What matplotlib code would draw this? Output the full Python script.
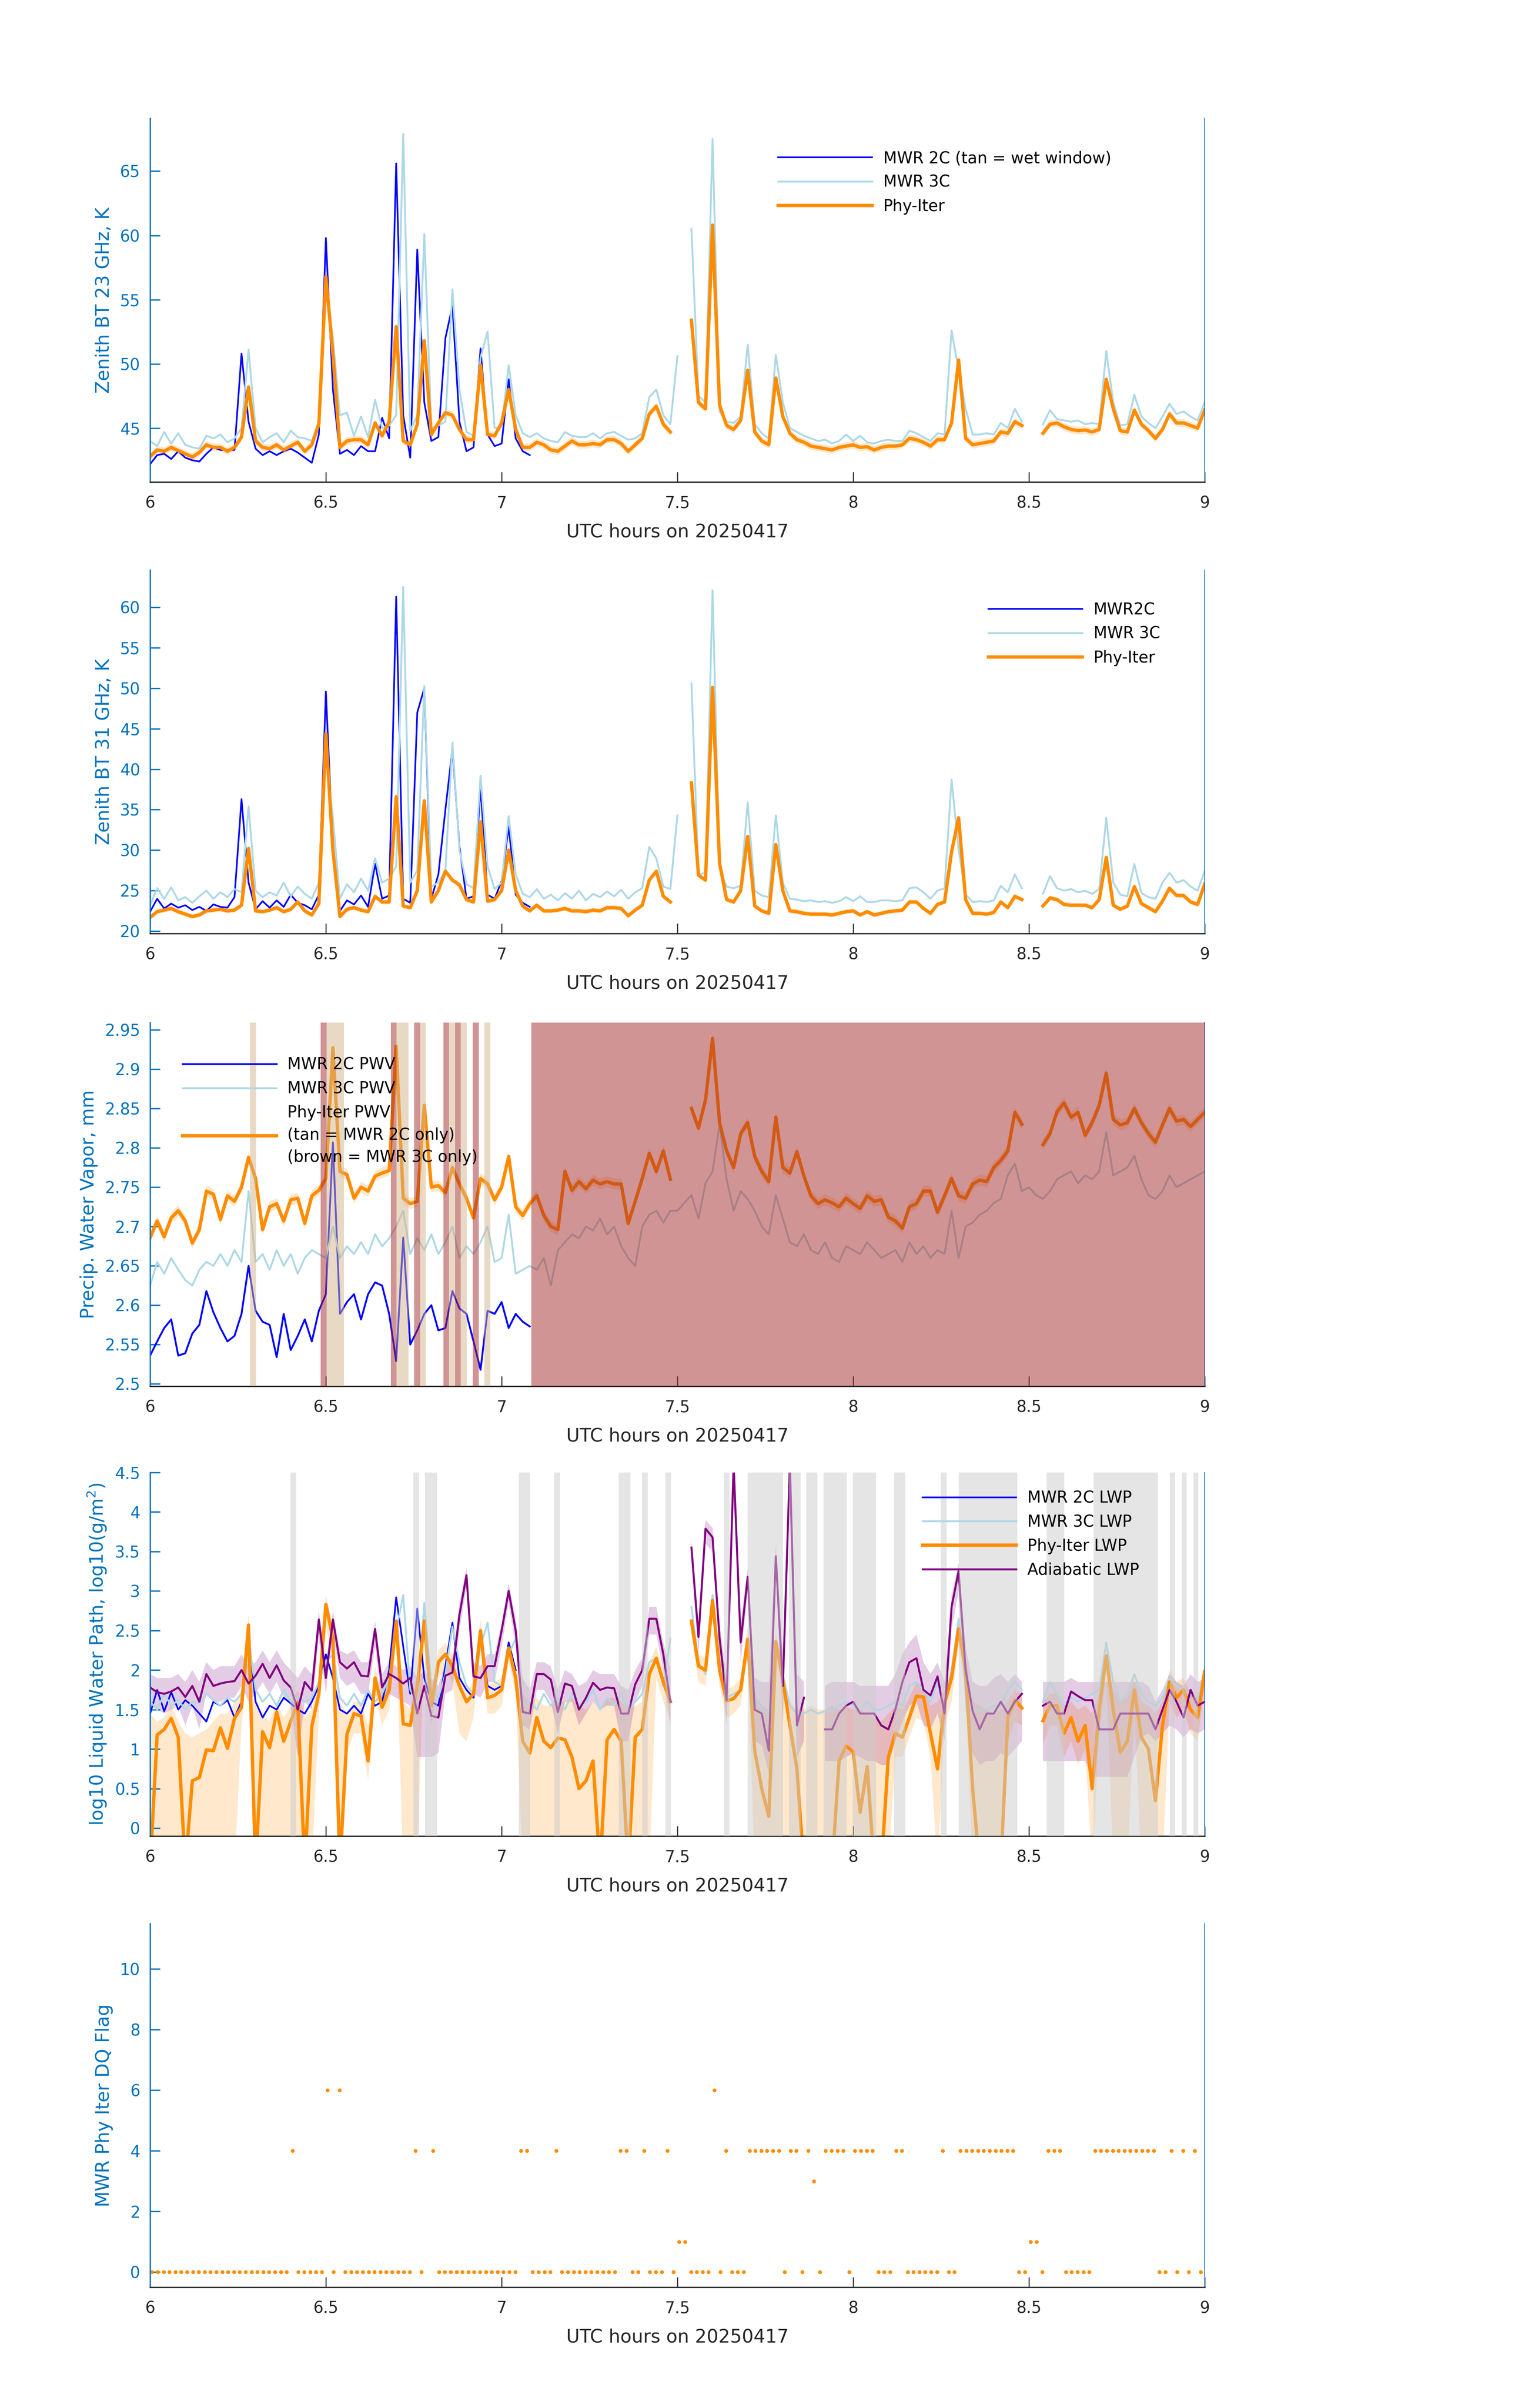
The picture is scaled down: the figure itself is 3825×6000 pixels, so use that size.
import numpy as np
import matplotlib
matplotlib.use('Agg')
import matplotlib.pyplot as plt
from matplotlib.ticker import FormatStrFormatter

nan = np.nan

# common 0.02 h time base, 6.00 .. 9.00 UTC
t = np.round(np.linspace(6.0, 9.0, 151), 2)

# ---- panel 1: 23 GHz brightness temperature (K)
mwr2c_bt23 = [
    42.2, 42.9, 43.0, 42.6, 43.2, 42.7, 42.5, 42.4, 43.0, 43.5,
    43.3, 43.3, 43.3, 50.8, 45.5, 43.4, 42.9, 43.2, 42.9, 43.2,
    43.4, 43.1, 42.7, 42.3, 44.5, 59.8, 48.0, 43.0, 43.3, 42.9,
    43.6, 43.2, 43.2, 45.8, 44.2, 65.6, 46.0, 42.7, 58.9, 47.0,
    44.0, 44.3, 52.0, 54.5, 45.5, 43.2, 43.5, 51.2, 44.5, 43.6,
    43.8, 48.8, 44.2, 43.2, 42.9, nan, nan, nan, nan, nan,
] + [nan] * 91
mwr3c_bt23 = [
    44.0, 43.6, 44.7, 43.8, 44.6, 43.7, 43.5, 43.4, 44.4, 44.2,
    44.5, 43.9, 44.2, 45.0, 51.1, 45.0, 43.9, 44.3, 44.6, 43.9,
    44.8, 44.3, 44.2, 44.0, 45.6, 56.0, 52.0, 46.0, 46.2, 44.4,
    45.9, 44.3, 47.2, 45.0, 45.2, 46.0, 67.9, 44.8, 46.0, 60.1,
    45.0, 45.2, 45.5, 55.8, 48.0, 44.7, 44.4, 50.5, 52.5, 45.0,
    45.1, 49.9, 46.0, 44.6, 44.3, 44.6, 44.2, 44.0, 43.9, 44.7,
    44.4, 44.3, 44.3, 44.6, 44.2, 44.6, 44.7, 44.4, 44.1, 44.2,
    44.6, 47.4, 48.0, 46.0, 45.3, 50.6, nan, 60.5, 47.5, 47.0,
    67.5, 46.3, 45.5, 45.4, 45.9, 51.5, 45.3, 44.6, 44.2, 50.7,
    47.0, 45.0, 44.7, 44.4, 44.2, 44.0, 44.1, 43.8, 44.0, 44.5,
    44.0, 44.4, 43.9, 43.8, 44.0, 44.1, 44.0, 44.0, 44.8, 44.6,
    44.3, 44.0, 44.6, 44.5, 52.6, 49.5, 46.5, 44.5, 44.5, 44.6,
    44.5, 45.4, 45.0, 46.5, 45.5, nan, nan, 45.3, 46.4, 45.7,
    45.6, 45.5, 45.6, 45.3, 45.4, 45.3, 51.0, 47.0, 45.2, 45.3,
    47.6, 45.9, 45.4, 45.0, 45.9, 46.9, 46.1, 46.3, 45.9, 45.6,
    47.0,
]
phy_bt23 = [
    42.8, 43.3, 43.2, 43.5, 43.25, 43.0, 42.75, 43.1, 43.7, 43.5,
    43.5, 43.2, 43.5, 44.3, 48.2, 44.0, 43.5, 43.4, 43.7, 43.3,
    43.6, 43.9, 43.2, 43.7, 45.3, 56.8, 50.8, 43.5, 44.0, 44.1,
    44.1, 43.7, 45.4, 44.4, 45.5, 52.9, 44.0, 43.7, 45.3, 51.8,
    44.5, 45.4, 46.2, 46.0, 44.9, 44.1, 44.1, 49.9, 44.5, 44.4,
    45.4, 48.0, 44.9, 43.5, 43.5, 43.9, 43.7, 43.3, 43.2, 43.6,
    44.0, 43.7, 43.7, 43.8, 43.7, 44.1, 44.1, 43.8, 43.2, 43.7,
    44.2, 46.1, 46.7, 45.3, 44.7, nan, nan, 53.4, 47.0, 46.5,
    60.8, 46.8, 45.2, 44.9, 45.6, 49.5, 44.7, 44.0, 43.7, 48.9,
    45.9, 44.6, 44.1, 43.9, 43.6, 43.5, 43.4, 43.3, 43.5, 43.6,
    43.7, 43.5, 43.55, 43.3, 43.5, 43.6, 43.6, 43.7, 44.2, 44.1,
    43.9, 43.6, 44.1, 44.1, 45.4, 50.3, 44.2, 43.7, 43.8, 43.9,
    44.0, 44.7, 44.6, 45.5, 45.2, nan, nan, 44.6, 45.3, 45.4,
    45.1, 44.9, 44.8, 44.85, 44.7, 44.9, 48.8, 46.5, 44.8, 44.7,
    46.4, 45.3, 44.8, 44.2, 44.9, 46.1, 45.4, 45.4, 45.2, 45.0,
    46.4,
]
phy_bt23_err = 0.3

# ---- panel 2: 31 GHz brightness temperature (K)
mwr2c_bt31 = [
    22.4, 24.0, 22.8, 23.4, 22.9, 23.2, 22.6, 23.0, 22.5, 23.3,
    23.0, 22.9, 24.2, 36.3, 26.0, 22.7, 23.7, 22.9, 23.8, 23.0,
    24.5, 23.5, 23.2, 22.7, 24.5, 49.6, 30.0, 22.5, 23.8, 23.3,
    24.4, 23.0, 28.3, 24.0, 24.4, 61.3, 24.0, 23.5, 47.0, 50.0,
    24.0, 27.0, 35.0, 42.5, 30.5, 24.0, 24.3, 37.8, 24.5, 24.0,
    26.2, 32.9, 24.5, 23.5, 23.0, nan, nan, nan, nan, nan,
] + [nan] * 91
mwr3c_bt31 = [
    23.2, 25.3, 24.0, 25.4, 23.8, 24.2, 23.5, 24.3, 25.0, 24.0,
    24.8, 24.2, 25.2, 24.8, 35.4, 25.0, 24.2, 24.8, 24.4, 26.0,
    24.3, 25.5, 24.6, 24.0, 26.0, 42.0, 34.0, 24.0, 25.8, 24.8,
    26.5, 25.0, 29.0, 26.0, 26.5, 28.0, 62.5, 26.0, 27.5, 50.3,
    25.5, 26.0, 27.5, 43.3, 30.0, 25.8, 25.3, 39.2, 28.0, 25.2,
    26.0, 34.2, 27.0, 24.6, 24.2, 25.2, 24.0, 24.5, 23.8, 24.7,
    24.0, 25.0, 23.8, 24.6, 24.2, 24.9, 24.3, 25.1, 24.0, 24.8,
    25.3, 30.4, 29.0, 25.5, 25.2, 34.3, nan, 50.6, 27.0, 27.2,
    62.1, 27.8, 25.5, 25.3, 25.6, 35.9, 25.0, 24.4, 24.2, 34.3,
    26.0, 24.0, 23.9, 23.7, 23.8, 23.6, 23.7, 23.5, 23.7, 24.2,
    23.7, 24.3, 23.6, 23.6, 23.8, 23.8, 23.7, 23.8, 25.3, 25.4,
    24.8, 24.0, 25.0, 25.3, 38.7, 30.0, 24.5, 23.6, 23.7, 23.6,
    23.8, 25.6, 24.8, 27.0, 25.3, nan, nan, 24.6, 26.8, 25.3,
    25.0, 25.2, 24.8, 25.0, 24.6, 25.2, 34.0, 26.0, 24.5, 24.3,
    28.3, 24.7, 24.2, 24.0, 26.0, 27.2, 26.0, 26.3, 25.5, 25.0,
    27.4,
]
phy_bt31 = [
    21.7, 22.4, 22.6, 22.8, 22.4, 22.1, 21.8, 22.0, 22.5, 22.6,
    22.7, 22.5, 22.6, 23.2, 30.2, 22.5, 22.4, 22.6, 22.9, 22.4,
    22.7, 23.6, 22.5, 22.0, 23.4, 44.4, 30.0, 21.8, 22.7, 22.9,
    22.6, 22.4, 24.3, 23.6, 23.6, 36.6, 23.1, 22.9, 25.0, 36.1,
    23.6, 25.0, 27.4, 26.3, 25.7, 23.9, 23.6, 33.5, 23.7, 23.9,
    25.0, 30.0, 25.0, 23.1, 22.5, 23.2, 22.5, 22.5, 22.6, 22.8,
    22.5, 22.5, 22.4, 22.6, 22.5, 22.9, 22.9, 22.8, 21.9, 22.6,
    23.2, 26.3, 27.4, 24.3, 23.6, nan, nan, 38.3, 26.9, 26.3,
    50.1, 28.4, 23.9, 23.6, 25.0, 31.7, 23.1, 22.5, 22.2, 30.7,
    25.0, 22.5, 22.4, 22.2, 22.1, 22.1, 22.1, 22.0, 22.2, 22.4,
    22.5, 22.0, 22.4, 22.0, 22.2, 22.4, 22.5, 22.6, 23.6, 23.6,
    22.8, 22.2, 23.3, 23.6, 29.8, 34.0, 23.9, 22.2, 22.2, 22.1,
    22.3, 23.6, 22.9, 24.3, 23.9, nan, nan, 23.1, 24.1, 23.9,
    23.3, 23.2, 23.2, 23.2, 22.9, 23.9, 29.1, 23.2, 22.7, 23.1,
    25.5, 23.4, 22.9, 22.4, 23.7, 25.3, 24.4, 24.4, 23.6, 23.3,
    25.8,
]
phy_bt31_err = 0.3

# ---- panel 3: precipitable water vapour (mm)
mwr2c_pwv = [
    2.536, 2.554, 2.571, 2.582, 2.536, 2.539, 2.564, 2.575, 2.618, 2.591,
    2.571, 2.554, 2.561, 2.589, 2.650, 2.593, 2.579, 2.575, 2.534, 2.589,
    2.543, 2.561, 2.582, 2.554, 2.593, 2.614, 2.807, 2.589, 2.604, 2.614,
    2.582, 2.614, 2.629, 2.625, 2.589, 2.529, 2.686, 2.550, 2.568, 2.589,
    2.600, 2.568, 2.571, 2.618, 2.596, 2.589, 2.554, 2.518, 2.593, 2.589,
    2.604, 2.571, 2.589, 2.579, 2.573, nan, nan, nan, nan, nan,
] + [nan] * 91
mwr3c_pwv = [
    2.625, 2.655, 2.640, 2.660, 2.645, 2.632, 2.625, 2.645, 2.655, 2.650,
    2.665, 2.650, 2.670, 2.655, 2.745, 2.655, 2.665, 2.645, 2.670, 2.650,
    2.665, 2.640, 2.660, 2.670, 2.665, 2.660, 2.700, 2.660, 2.675, 2.665,
    2.680, 2.665, 2.690, 2.675, 2.685, 2.700, 2.720, 2.665, 2.685, 2.670,
    2.690, 2.665, 2.680, 2.700, 2.660, 2.675, 2.665, 2.680, 2.700, 2.655,
    2.660, 2.715, 2.640, 2.645, 2.650, 2.645, 2.660, 2.625, 2.670, 2.680,
    2.690, 2.685, 2.700, 2.695, 2.710, 2.690, 2.700, 2.675, 2.660, 2.650,
    2.700, 2.715, 2.720, 2.705, 2.720, 2.720, 2.730, 2.740, 2.710, 2.755,
    2.770, 2.830, 2.760, 2.720, 2.745, 2.735, 2.720, 2.700, 2.690, 2.740,
    2.710, 2.680, 2.675, 2.690, 2.670, 2.665, 2.680, 2.660, 2.655, 2.675,
    2.670, 2.665, 2.680, 2.670, 2.660, 2.665, 2.670, 2.655, 2.680, 2.665,
    2.675, 2.660, 2.670, 2.665, 2.720, 2.660, 2.700, 2.705, 2.715, 2.720,
    2.730, 2.735, 2.765, 2.780, 2.745, 2.750, 2.740, 2.735, 2.745, 2.760,
    2.765, 2.770, 2.755, 2.765, 2.760, 2.770, 2.820, 2.765, 2.770, 2.775,
    2.790, 2.760, 2.740, 2.735, 2.745, 2.765, 2.750, 2.755, 2.760, 2.765,
    2.770,
]
phy_pwv = [
    2.686, 2.707, 2.687, 2.711, 2.720, 2.707, 2.679, 2.696, 2.745, 2.741,
    2.709, 2.739, 2.732, 2.750, 2.788, 2.761, 2.696, 2.725, 2.729, 2.707,
    2.734, 2.736, 2.704, 2.739, 2.746, 2.761, 2.927, 2.770, 2.766, 2.736,
    2.750, 2.745, 2.764, 2.768, 2.771, 2.929, 2.736, 2.729, 2.732, 2.854,
    2.750, 2.752, 2.743, 2.775, 2.754, 2.736, 2.711, 2.761, 2.754, 2.734,
    2.750, 2.789, 2.725, 2.714, 2.729, 2.739, 2.714, 2.700, 2.696, 2.770,
    2.746, 2.757, 2.748, 2.759, 2.754, 2.757, 2.754, 2.754, 2.704, 2.732,
    2.761, 2.793, 2.770, 2.796, 2.760, nan, nan, 2.850, 2.825, 2.861,
    2.939, 2.832, 2.796, 2.775, 2.818, 2.832, 2.789, 2.770, 2.757, 2.839,
    2.775, 2.768, 2.795, 2.764, 2.739, 2.729, 2.734, 2.730, 2.725, 2.736,
    2.729, 2.723, 2.739, 2.732, 2.734, 2.712, 2.707, 2.698, 2.725, 2.729,
    2.745, 2.745, 2.718, 2.739, 2.761, 2.739, 2.736, 2.754, 2.759, 2.757,
    2.775, 2.784, 2.796, 2.845, 2.830, nan, nan, 2.804, 2.818, 2.846,
    2.857, 2.839, 2.845, 2.816, 2.832, 2.854, 2.895, 2.836, 2.829, 2.832,
    2.850, 2.832, 2.818, 2.807, 2.829, 2.850, 2.834, 2.836, 2.827, 2.836,
    2.845,
]
phy_pwv_err = 0.007
tan_start = [6.284, 6.502, 6.701, 6.768, 6.851, 6.884, 6.951]
tan_end = [6.301, 6.551, 6.735, 6.784, 6.868, 6.901, 6.968]
brown_start = [6.485, 6.685, 6.751, 6.835, 6.868, 6.918, 7.084]
brown_end = [6.502, 6.701, 6.768, 6.851, 6.884, 6.935, 9.01]

# ---- panel 4: log10 liquid water path
mwr2c_lwp = [
    1.45, 1.75, 1.48, 1.72, 1.5, 1.62, 1.55, 1.45, 1.35, 1.6,
    1.55, 1.62, 1.4, 1.6, 2.45, 1.6, 1.4, 1.55, 1.5, 1.65,
    1.58, 1.5, 1.45, 1.6, 1.8, 2.2, 1.9, 1.5, 1.45, 1.55,
    1.45, 1.7, 1.55, 1.6, 2.0, 2.92, 2.3, 1.7, 2.78, 1.9,
    1.6, 1.55, 2.05, 2.6, 1.9, 1.75, 1.65, 2.5, 1.8, 1.75,
    1.8, 2.35, 2.0, nan, nan, nan, nan, nan, nan, nan,
] + [nan] * 91
mwr3c_lwp = [
    1.6, 1.5, 1.7, 1.55, 1.62, 1.5, 1.6, 1.58, 1.7, 1.62,
    1.55, 1.65, 1.6, 1.7, 2.4, 1.75, 1.6, 1.7, 1.55, 1.75,
    1.6, 1.65, 1.6, 1.65, 1.85, 2.1, 2.2, 1.65, 1.55, 1.7,
    1.55, 1.75, 1.6, 1.7, 1.9, 2.5, 2.95, 1.75, 1.6, 2.85,
    1.8, 1.65, 1.95, 2.55, 2.1, 1.8, 1.7, 2.3, 2.6, 1.85,
    1.8, 2.2, 2.4, 1.55, 1.6, 1.5, 1.7, 1.55, 1.65, 1.5,
    1.7, 1.55, 1.6, 1.75, 1.5, 1.65, 1.55, 1.7, 1.5, 1.6,
    1.7, 2.1, 2.15, 1.8, 2.4, nan, nan, 2.8, 2.1, 1.95,
    2.95, 2.1, 1.65, 1.7, 1.75, 2.4, 1.65, 1.5, 1.45, 2.35,
    1.95, 1.55, 1.45, 1.45, 1.5, 1.45, 1.48, 1.5, 1.55, 1.6,
    1.55, 1.5, 1.6, 1.5, 1.5, 1.55, 1.6, 1.55, 1.8, 1.85,
    1.75, 1.6, 1.85, 1.55, 2.0, 2.65, 1.9, 1.5, 1.5, 1.5,
    1.55, 1.55, 1.75, 1.85, 1.75, nan, nan, 1.6, 1.85, 1.7,
    1.55, 1.65, 1.6, 1.65, 1.7, 1.75, 2.35, 1.85, 1.6, 1.7,
    1.95, 1.7, 1.6, 1.55, 1.65, 1.9, 1.8, 1.75, 1.7, 1.65,
    1.95,
]
phy_lwp = [
    -0.5, 1.18, 1.25, 1.39, 1.15, -0.5, 0.6, 0.64, 0.99, 0.98,
    1.27, 1.01, 1.39, 1.53, 2.57, -0.5, 1.22, 1.02, 1.47, 1.10,
    1.35, 1.59, -0.5, 1.29, 1.7, 2.83, 2.4, -0.5, 1.19, 1.45,
    1.42, 0.85, 1.90, 1.53, 1.75, 2.62, 1.32, 1.30, 1.8, 2.62,
    1.55, 2.1, 2.2, 2.05, 1.8, 1.6, 1.7, 2.5, 1.65, 1.68,
    1.75, 2.28, 1.9, 1.1, 0.95, 1.4, 1.1, 1.02, 1.14, 1.12,
    0.9, 0.5, 0.6, 0.85, -0.5, 1.12, 1.25, 1.1, -0.5, 1.15,
    1.25, 1.95, 2.15, 1.85, 1.6, nan, nan, 2.62, 2.05, 2.0,
    2.88, 2.0, 1.61, 1.64, 1.75, 2.39, 0.98, 0.5, 0.15, 2.36,
    1.87, 1.3, 0.75, -0.5, -0.5, -0.5, -0.5, -0.5, 0.85, 1.04,
    0.97, 0.2, 0.78, -0.5, -0.5, 0.9, 1.2, 1.15, 1.4, 1.67,
    1.66, 1.2, 0.75, 1.58, 1.9, 2.52, 2.0, 0.5, -0.5, -0.5,
    -0.5, -0.5, 1.4, 1.62, 1.52, nan, nan, 1.36, 1.55, 1.55,
    1.2, 1.4, 1.1, 1.3, 0.5, 1.5, 2.18, 1.5, 0.96, 1.1,
    1.75, 1.15, 1.0, 0.35, 1.3, 1.85, 1.65, 1.75, 1.5, 1.4,
    1.98,
]
phy_lwp_hi = [
    1.45, 1.35, 1.4, 1.55, 1.35, 1.2, 1.15, 1.2, 1.25, 1.35,
    1.45, 1.45, 1.6, 1.75, 2.7, 1.6, 1.45, 1.35, 1.6, 1.4,
    1.55, 1.75, 1.4, 1.5, 1.85, 2.95, 2.55, 1.6, 1.45, 1.6,
    1.6, 1.3, 2.05, 1.7, 1.9, 2.75, 1.6, 1.5, 1.95, 2.75,
    1.75, 2.25, 2.35, 2.2, 1.95, 1.75, 1.85, 2.65, 1.8, 1.85,
    1.9, 2.4, 2.05, 1.7, 1.6, 1.65, 1.55, 1.55, 1.6, 1.6,
    1.65, 1.55, 1.5, 1.6, 1.5, 1.65, 1.65, 1.6, 1.5, 1.55,
    1.6, 2.1, 2.3, 2.0, 1.75, nan, nan, 2.75, 2.2, 2.15,
    3.0, 2.15, 1.75, 1.8, 1.9, 2.55, 1.7, 1.55, 1.5, 2.5,
    2.0, 1.6, 1.5, 1.5, 1.55, 1.5, 1.5, 1.55, 1.5, 1.55,
    1.5, 1.5, 1.45, 1.4, 1.35, 1.45, 1.55, 1.5, 1.65, 1.85,
    1.8, 1.55, 1.6, 1.75, 2.05, 2.65, 2.15, 1.6, 1.55, 1.5,
    1.45, 1.5, 1.6, 1.75, 1.7, nan, nan, 1.6, 1.7, 1.7,
    1.55, 1.6, 1.5, 1.55, 1.45, 1.7, 2.35, 1.75, 1.6, 1.65,
    1.9, 1.6, 1.55, 1.45, 1.6, 2.0, 1.85, 1.9, 1.7, 1.65,
    2.1,
]
phy_lwp_lo = [
    -0.5, -0.5, -0.5, -0.5, -0.5, -0.5, -0.5, -0.5, -0.5, -0.5,
    -0.5, -0.5, -0.5, 1.3, 2.2, -0.5, -0.5, -0.5, -0.5, -0.5,
    -0.5, -0.5, -0.5, -0.5, 1.45, 2.6, 2.1, -0.5, 0.95, 1.2,
    1.2, 0.6, 1.7, 1.3, 1.5, 2.45, -0.5, -0.5, -0.5, 2.4,
    1.3, 1.9, 2.0, 1.85, 1.2, 1.1, 1.4, 2.3, 1.45, 1.45,
    1.55, 2.1, 1.7, -0.5, -0.5, -0.5, -0.5, -0.5, -0.5, -0.5,
    -0.5, -0.5, -0.5, -0.5, -0.5, -0.5, -0.5, -0.5, -0.5, -0.5,
    -0.5, -0.5, 1.9, 1.6, 1.35, nan, nan, 2.45, 1.85, 1.8,
    2.7, 1.8, 1.4, 1.45, 1.55, 2.2, -0.5, -0.5, -0.5, -0.5,
    -0.5, -0.5, -0.5, -0.5, -0.5, -0.5, -0.5, -0.5, -0.5, -0.5,
    -0.5, -0.5, -0.5, -0.5, -0.5, -0.5, 0.9, 0.9, 1.15, 1.4,
    1.35, 0.9, -0.5, 1.3, 1.6, 2.3, 1.7, -0.5, -0.5, -0.5,
    -0.5, -0.5, 1.1, 1.35, 1.3, nan, nan, 1.05, 1.3, 1.3,
    0.9, 1.1, 0.8, 1.0, -0.5, 1.2, 1.95, -0.5, -0.5, -0.5,
    1.5, -0.5, -0.5, -0.5, -0.5, 1.6, 1.4, 1.5, 1.2, 1.1,
    1.8,
]
adi_lwp = [
    1.78, 1.72, 1.70, 1.73, 1.78, 1.66, 1.80, 1.60, 1.95, 1.80,
    1.83, 1.85, 1.86, 2.0, 1.83, 1.93, 2.08, 1.90, 2.06, 1.87,
    1.78, 1.5, 1.85, 1.74, 2.64, 1.9, 2.64, 2.1, 2.02, 2.1,
    1.93, 1.92, 2.52, 1.78, 1.95, 1.9, 1.83, 1.9, 1.45, 1.8,
    1.42, 1.4, 1.93, 1.97, 2.7, 3.2, 1.92, 1.9, 2.05, 2.05,
    2.5, 3.0, 2.5, 1.47, 1.45, 1.95, 1.95, 1.88, 1.47, 1.83,
    1.8, 1.5, 1.65, 1.84, 1.75, 1.78, 1.77, 1.45, 1.45, 1.82,
    2.0, 2.65, 2.65, 2.2, 1.6, nan, nan, 3.55, 2.42, 3.79,
    3.68, 2.4, 1.62, 4.6, 2.35, 3.18, 1.5, 1.45, 0.98, 3.44,
    1.8, 4.6, 1.3, 1.65, nan, nan, 1.25, 1.25, 1.45, 1.55,
    1.6, 1.45, 1.45, 1.45, 1.3, 1.25, 1.5, 1.85, 2.1, 2.15,
    1.75, 1.68, 1.92, 1.45, 2.8, 3.25, 2.0, 1.48, 1.25, 1.45,
    1.45, 1.6, 1.45, 1.6, 1.7, nan, nan, 1.55, 1.6, 1.45,
    1.45, 1.73, 1.67, 1.62, 1.62, 1.25, 1.25, 1.25, 1.45, 1.45,
    1.45, 1.45, 1.45, 1.25, 1.5, 1.75, 1.6, 1.4, 1.75, 1.55,
    1.6,
]
adi_lwp_hi = [
    1.95, 1.9, 1.9, 1.9, 1.95, 1.85, 2.0, 1.85, 2.1, 2.0,
    2.05, 2.05, 2.05, 2.2, 2.05, 2.1, 2.25, 2.1, 2.25, 2.1,
    2.0, 1.9, 2.05, 1.95, 2.75, 2.1, 2.75, 2.25, 2.2, 2.25,
    2.1, 2.1, 2.62, 1.95, 2.1, 2.05, 2.0, 2.05, 1.9, 2.0,
    1.9, 1.8, 2.1, 2.15, 2.85, 3.3, 2.1, 2.05, 2.2, 2.2,
    2.6, 3.1, 2.65, 1.9, 1.75, 2.1, 2.1, 2.05, 1.75, 2.0,
    1.95, 1.8, 1.85, 2.0, 1.95, 1.95, 1.95, 1.8, 1.75, 2.0,
    2.15, 2.8, 2.8, 2.35, 2.0, nan, nan, 3.65, 2.6, 3.9,
    3.8, 2.6, 1.9, 4.7, 2.6, 3.3, 1.9, 1.85, 1.85, 3.6,
    2.1, 4.7, 1.95, 1.85, nan, nan, 1.8, 1.85, 1.85, 1.85,
    1.85, 1.8, 1.8, 1.8, 1.8, 1.8, 1.95, 2.2, 2.35, 2.45,
    2.1, 1.95, 2.1, 1.85, 2.95, 3.35, 2.3, 1.85, 1.8, 1.8,
    1.9, 1.95, 1.85, 1.95, 1.85, nan, nan, 1.85, 1.85, 1.85,
    1.85, 1.9, 1.85, 1.85, 1.85, 1.85, 1.85, 1.85, 1.85, 1.85,
    1.85, 1.85, 1.8, 1.6, 1.75, 1.95, 1.85, 1.8, 1.95, 1.85,
    1.9,
]
adi_lwp_lo = [
    1.55, 1.5, 1.45, 1.5, 1.55, 1.3, 1.55, 1.25, 1.7, 1.6,
    1.6, 1.65, 1.65, 1.8, 1.6, 1.7, 1.85, 1.7, 1.85, 1.65,
    1.55, 0.9, 1.6, 1.5, 2.4, 1.7, 2.5, 1.9, 1.8, 1.85,
    1.7, 1.7, 2.3, 1.55, 1.7, 1.65, 1.6, 1.55, 0.9, 0.9,
    0.9, 0.95, 1.7, 1.75, 2.5, 3.05, 1.7, 1.65, 1.85, 1.85,
    2.3, 2.85, 2.3, 1.3, 1.25, 1.75, 1.75, 1.6, 1.2, 1.6,
    1.6, 1.3, 1.45, 1.6, 1.5, 1.55, 1.55, 1.1, 1.1, 1.6,
    1.8, 2.45, 2.45, 2.0, 1.3, nan, nan, 3.4, 2.2, 3.6,
    3.5, 2.2, 1.3, 4.4, 2.1, 3.0, 1.1, 1.05, 0.7, 3.2,
    1.3, 4.4, 0.9, 1.1, nan, nan, 0.85, 0.85, 0.85, 0.9,
    0.95, 0.9, 0.85, 0.85, 0.8, 0.8, 1.1, 1.35, 1.55, 1.6,
    1.3, 1.25, 1.45, 1.1, 2.5, 3.0, 1.5, 0.95, 0.8, 0.85,
    0.85, 0.95, 0.9, 1.0, 1.1, nan, nan, 0.85, 0.85, 0.85,
    0.85, 0.85, 0.85, 0.85, 0.65, 0.65, 0.65, 0.65, 0.65, 0.65,
    0.9, 1.15, 1.2, 1.1, 1.2, 1.3, 1.25, 1.15, 1.25, 1.2,
    1.25,
]
wet_start = [6.400, 6.749, 6.782, 7.049, 7.150, 7.333, 7.400, 7.466,
             7.633, 7.700, 7.817, 7.867, 7.916, 7.999, 8.116, 8.249,
             8.300, 8.550, 8.684, 8.901, 8.935, 8.968]
wet_end = [6.415, 6.765, 6.816, 7.081, 7.165, 7.366, 7.415, 7.482,
           7.648, 7.800, 7.850, 7.899, 7.982, 8.065, 8.149, 8.266,
           8.467, 8.601, 8.867, 8.916, 8.949, 8.982]

# ---- panel 5: Phy-Iter data quality flag, one value per minute
dq_flag = (
    [0] * 24 + [4] + [0] * 5 + [6, 0, 6] + [0] * 12 + [4, 0, nan, 4]
    + [0] * 14 + [4, 4] + [0] * 4 + [4] + [0] * 10 + [4, 4, 0, 0, 4]
    + [0, 0, 0, 4, 0, 1, 1] + [0] * 4 + [6, 0, 4, 0, 0, 0] + [4] * 6
    + [0, 4, 4, 0, 4, 3, 0] + [4] * 4 + [0] + [4] * 4 + [0] * 3 + [4, 4]
    + [0] * 6 + [4, 0, 0] + [4] * 10 + [0, 0, 1, 1, 0, 4, 4, 4]
    + [0] * 5 + [4] * 11 + [0, 0, 4, 0, 4, 0, 4, 0, 0]
)
dq_t = 6 + (np.arange(len(dq_flag)) + 0.3) / 60

# ---- styling
c_2c = '#0000FF'
c_3c = '#ADD8E6'
c_phy = '#FF8C00'
c_adi = '#800080'
c_ax = '#0072BD'
c_txt = '#262626'

fig = plt.figure(figsize=(12.75, 20), dpi=300)
left, width, height = 0.0978, 0.687, 0.151
bottoms = [0.7998, 0.6123, 0.4243, 0.2375, 0.0502]
axs = [fig.add_axes([left, b, width, height]) for b in bottoms]


def style_axes(ax, ylim, yticks, ylabel):
    ax.set_xlim(6, 9)
    ax.set_ylim(*ylim)
    ax.set_xticks([6, 6.5, 7, 7.5, 8, 8.5, 9])
    ax.xaxis.set_major_formatter(FormatStrFormatter('%g'))
    ax.set_yticks(yticks)
    ax.yaxis.set_major_formatter(FormatStrFormatter('%g'))
    ax.spines['top'].set_visible(False)
    ax.spines['left'].set_color(c_ax)
    ax.spines['left'].set_linewidth(0.8)
    ax.spines['right'].set_color(c_ax)
    ax.spines['right'].set_linewidth(0.5)
    ax.spines['bottom'].set_color(c_txt)
    ax.spines['bottom'].set_linewidth(0.8)
    ax.tick_params(axis='x', direction='in', length=6, width=0.6,
                   colors=c_txt, labelsize=9.5, pad=8)
    ax.tick_params(axis='y', direction='in', length=6, width=0.8,
                   colors=c_ax, labelsize=9.5, pad=6)
    ax.set_xlabel('UTC hours on 20250417', fontsize=11, color=c_txt,
                  labelpad=7)
    ax.set_ylabel(ylabel, fontsize=11, color=c_ax)


def add_legend(ax, x, y):
    leg = ax.legend(loc='center left', bbox_to_anchor=(x, y),
                    bbox_transform=fig.transFigure, frameon=False,
                    fontsize=9.5, borderpad=0, borderaxespad=0,
                    handlelength=5.9, handletextpad=0.7, labelspacing=0.5)
    leg.set_zorder(20)
    return leg


# panel 1
ax = axs[0]
ax.plot(t, mwr2c_bt23, color=c_2c, lw=1.0, label='MWR 2C (tan = wet window)')
ax.plot(t, mwr3c_bt23, color=c_3c, lw=1.1, label='MWR 3C')
ax.fill_between(t, np.array(phy_bt23) - phy_bt23_err,
                np.array(phy_bt23) + phy_bt23_err,
                color=c_phy, alpha=0.2, lw=0)
ax.plot(t, phy_bt23, color=c_phy, lw=2.0, label='Phy-Iter')
style_axes(ax, (40.8, 69.1), [45, 50, 55, 60, 65], 'Zenith BT 23 GHz, K')
add_legend(ax, 0.507, 0.9242)

# panel 2
ax = axs[1]
ax.plot(t, mwr2c_bt31, color=c_2c, lw=1.0, label='MWR2C')
ax.plot(t, mwr3c_bt31, color=c_3c, lw=1.1, label='MWR 3C')
ax.fill_between(t, np.array(phy_bt31) - phy_bt31_err,
                np.array(phy_bt31) + phy_bt31_err,
                color=c_phy, alpha=0.2, lw=0)
ax.plot(t, phy_bt31, color=c_phy, lw=2.0, label='Phy-Iter')
style_axes(ax, (19.7, 64.6), list(range(20, 61, 5)), 'Zenith BT 31 GHz, K')
add_legend(ax, 0.644, 0.7367)

# panel 3
ax = axs[2]
ax.plot(t, mwr2c_pwv, color=c_2c, lw=1.1, label='MWR 2C PWV')
ax.plot(t, mwr3c_pwv, color=c_3c, lw=1.1, label='MWR 3C PWV')
ax.fill_between(t, np.array(phy_pwv) - phy_pwv_err,
                np.array(phy_pwv) + phy_pwv_err,
                color=c_phy, alpha=0.2, lw=0)
ax.plot(t, phy_pwv, color=c_phy, lw=2.0,
        label='Phy-Iter PWV\n(tan = MWR 2C only)\n(brown = MWR 3C only)')
for s, e in zip(tan_start, tan_end):
    ax.axvspan(s, e, color='tan', alpha=0.5, lw=0, zorder=5)
for s, e in zip(brown_start, brown_end):
    ax.axvspan(s, e, color='brown', alpha=0.5, lw=0, zorder=5)
style_axes(ax, (2.497, 2.959), np.round(np.arange(2.5, 2.96, 0.05), 2),
           'Precip. Water Vapor, mm')
leg = add_legend(ax, 0.119, 0.5385)
leg.get_texts()[2].set_linespacing(1.5)

# panel 4
ax = axs[3]
ax.plot(t, mwr2c_lwp, color=c_2c, lw=1.0, label='MWR 2C LWP')
ax.plot(t, mwr3c_lwp, color=c_3c, lw=1.1, label='MWR 3C LWP')
ax.fill_between(t, phy_lwp_lo, phy_lwp_hi, color=c_phy, alpha=0.2, lw=0)
ax.plot(t, phy_lwp, color=c_phy, lw=2.0, label='Phy-Iter LWP')
ax.fill_between(t, adi_lwp_lo, adi_lwp_hi, color=c_adi, alpha=0.2, lw=0)
ax.plot(t, adi_lwp, color=c_adi, lw=1.2, label='Adiabatic LWP')
for s, e in zip(wet_start, wet_end):
    ax.axvspan(s, e, color='0.8', alpha=0.5, lw=0, zorder=5)
style_axes(ax, (-0.1, 4.5), np.arange(0, 4.6, 0.5),
           r'log10 Liquid Water Path, log10(g/m$^2$)')
add_legend(ax, 0.601, 0.3628)

# panel 5
ax = axs[4]
ax.plot(dq_t, dq_flag, linestyle='none', marker='o', markersize=2.3,
        color=c_phy, markeredgewidth=0)
style_axes(ax, (-0.5, 11.5), [0, 2, 4, 6, 8, 10], 'MWR Phy Iter DQ Flag')

fig.savefig('out.png', dpi=300)
